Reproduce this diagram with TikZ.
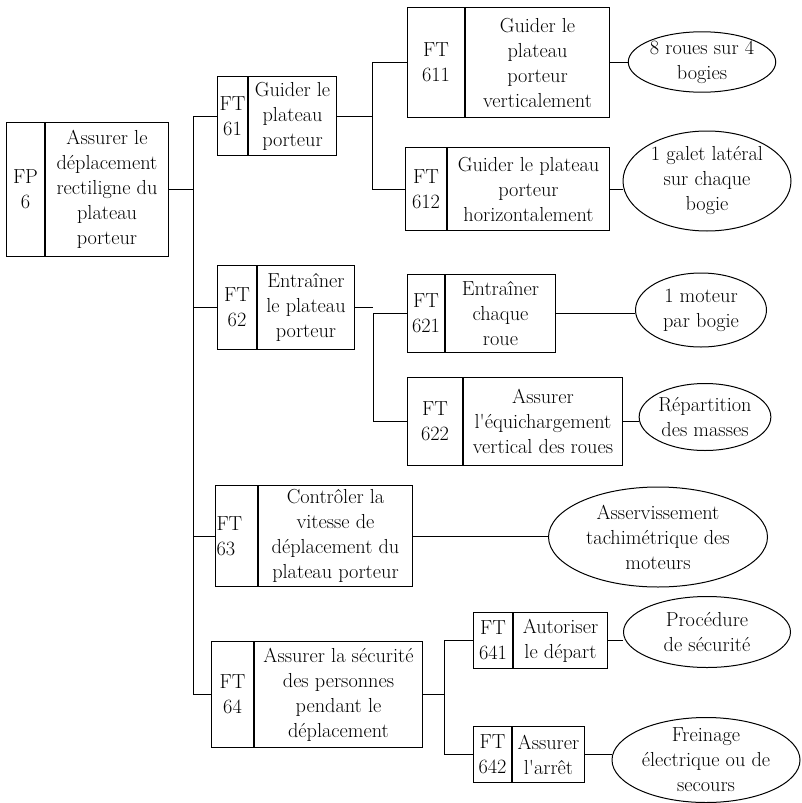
\documentclass[tikz,border=0pt]{standalone}
\usepackage{tikz}
\usetikzlibrary{shapes.geometric}

\begin{document}
\begin{tikzpicture}[x=1pt,y=-1pt,line width=1pt,
    every node/.style={font={\fontsize{20.3}{25}\selectfont},line width=1pt},
    numbox/.style={draw,anchor=north west,inner sep=0pt,align=center},
    fctbox/.style={draw,anchor=north west,inner sep=0pt,align=center},
    solbox/.style={draw,ellipse,inner sep=0pt,align=center}]
      \useasboundingbox (0,0) rectangle (801,803);
      \node[numbox,minimum width=38pt,minimum height=134pt] (fp6n) at (6,122) {FP\\6};
      \node[fctbox,minimum width=123pt,minimum height=134pt] (fp6) at (fp6n.north east) {Assurer le\\déplacement\\rectiligne du\\plateau\\porteur};
      \node[numbox,minimum width=30pt,minimum height=79pt] (ft61n) at (217,76) {FT\\61};
      \node[fctbox,minimum width=88pt,minimum height=79pt] (ft61) at (ft61n.north east) {Guider le\\plateau\\porteur};
      \node[numbox,minimum width=57pt,minimum height=110pt] (ft611n) at (407,7) {FT\\611};
      \node[fctbox,minimum width=144pt,minimum height=110pt] (ft611) at (ft611n.north east) {Guider le\\plateau\\porteur\\verticalement};
      \node[numbox,minimum width=41pt,minimum height=83pt] (ft612n) at (405,147) {FT\\612};
      \node[fctbox,minimum width=162pt,minimum height=83pt] (ft612) at (ft612n.north east) {Guider le plateau\\porteur\\horizontalement};
      \node[numbox,minimum width=39pt,minimum height=84pt] (ft62n) at (217,265) {FT\\62};
      \node[fctbox,minimum width=97pt,minimum height=84pt] (ft62) at (ft62n.north east) {Entraîner\\le plateau\\porteur};
      \node[numbox,minimum width=37pt,minimum height=78pt] (ft621n) at (407,274) {FT\\621};
      \node[fctbox,minimum width=110pt,minimum height=78pt] (ft621) at (ft621n.north east) {Entraîner\\chaque\\roue};
      \node[numbox,minimum width=55pt,minimum height=88pt] (ft622n) at (407,377) {FT\\622};
      \node[fctbox,minimum width=159pt,minimum height=88pt] (ft622) at (ft622n.north east) {Assurer\\l\textquotesingle équichargement\\vertical des roues};
      \node[numbox,minimum width=42pt,minimum height=101pt,text width=40pt,align=left] (ft63n) at (215,485) {FT\\63};
      \node[fctbox,minimum width=154pt,minimum height=101pt] (ft63) at (ft63n.north east) {Contrôler la\\vitesse de\\déplacement du\\plateau porteur};
      \node[numbox,minimum width=42pt,minimum height=106pt] (ft64n) at (211,641) {FT\\64};
      \node[fctbox,minimum width=168pt,minimum height=106pt] (ft64) at (ft64n.north east) {Assurer la sécurité\\des personnes\\pendant le\\déplacement};
      \node[numbox,minimum width=39pt,minimum height=56pt] (ft641n) at (473,612) {FT\\641};
      \node[fctbox,minimum width=94pt,minimum height=56pt] (ft641) at (ft641n.north east) {Autoriser\\le départ};
      \node[numbox,minimum width=38pt,minimum height=56pt] (ft642n) at (473,726) {FT\\642};
      \node[fctbox,minimum width=72pt,minimum height=56pt] (ft642) at (ft642n.north east) {Assurer\\l\textquotesingle arrêt};

      \node[solbox,minimum width=147pt,minimum height=60pt] (s611) at (702,62) {8 roues sur 4\\bogies};
      \node[solbox,minimum width=168pt,minimum height=100pt] (s612) at (707,181) {1 galet latéral\\sur chaque\\bogie};
      \node[solbox,minimum width=131pt,minimum height=74pt] (s621) at (701,310) {1 moteur\\par bogie};
      \node[solbox,minimum width=128pt,minimum height=67pt] (s622) at (705,417) {Répartition\\des masses};
      \node[solbox,minimum width=219pt,minimum height=100pt] (s63) at (658,537) {Asservissement\\tachimétrique des\\moteurs};
      \node[solbox,minimum width=167pt,minimum height=71pt] (s641) at (707,632) {Procédure\\de sécurité};
      \node[solbox,minimum width=188pt,minimum height=85pt,inner ysep=-5pt] (s642) at (706,760) {Freinage\\électrique ou de\\secours};

      \coordinate (b6) at (193,0);
      \coordinate (b61) at (372,0);
      \coordinate (b62) at (373,0);
      \coordinate (b64) at (444,0);

      \draw (fp6.east) -- (fp6.east -| b6);
      \draw (ft61n.west -| b6) -- (ft64n.west -| b6);
      \draw (ft61n.west -| b6) -- (ft61n.west);
      \draw (ft62n.west -| b6) -- (ft62n.west);
      \draw (ft63n.west -| b6) -- (ft63n.west);
      \draw (ft64n.west -| b6) -- (ft64n.west);

      \draw (ft61.east) -- (ft61.east -| b61);
      \draw (ft611n.west -| b61) -- (ft612n.west -| b61);
      \draw (ft611n.west -| b61) -- (ft611n.west);
      \draw (ft612n.west -| b61) -- (ft612n.west);

      \draw (ft62.east) -- (ft62.east -| b62);
      \draw (ft621n.west -| b62) -- (ft622n.west -| b62);
      \draw (ft621n.west -| b62) -- (ft621n.west);
      \draw (ft622n.west -| b62) -- (ft622n.west);

      \draw (ft64.east) -- (ft64.east -| b64);
      \draw (ft641n.west -| b64) -- (ft642n.west -| b64);
      \draw (ft641n.west -| b64) -- (ft641n.west);
      \draw (ft642n.west -| b64) -- (ft642n.west);

      \draw (ft611.east) -- (ft611.east -| s611.west);
      \draw (ft612.east) -- (ft612.east -| s612.west);
      \draw (ft621.east) -- (ft621.east -| s621.west);
      \draw (ft622.east) -- (ft622.east -| s622.west);
      \draw (ft63.east) -- (ft63.east -| s63.west);
      \draw (ft641.east) -- (ft641.east -| s641.west);
      \draw (ft642.east) -- (ft642.east -| s642.west);
    \end{tikzpicture}
\end{document}
